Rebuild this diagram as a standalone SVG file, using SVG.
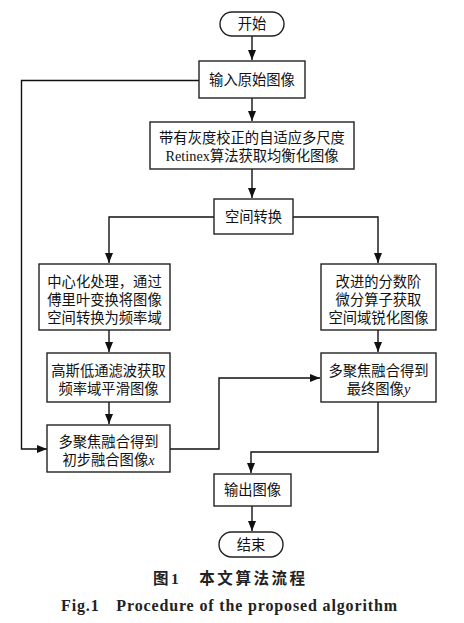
<svg xmlns="http://www.w3.org/2000/svg" width="464" height="623" viewBox="0 0 464 623">
<defs>
<marker id="ah" markerWidth="10" markerHeight="8" refX="10" refY="4" orient="auto" markerUnits="userSpaceOnUse">
<path d="M0,0 L10,4 L0,8 Z" fill="#111"/>
</marker>
<style>
.b{fill:#fff;stroke:#222;stroke-width:1.4}
.t{font-family:"Liberation Serif","Noto Sans CJK SC",serif;font-size:14.3px;fill:#111;text-anchor:middle}
.c{fill:none;stroke:#111;stroke-width:1.4}
.cap{font-family:"Liberation Serif","Noto Sans CJK SC",serif;font-weight:bold;fill:#222;text-anchor:middle}
</style>
</defs>
<rect width="464" height="623" fill="#fff"/>
<g id="connectors">
<path class="c" d="M252,36 V60" marker-end="url(#ah)"/>
<path class="c" d="M252,98 V121" marker-end="url(#ah)"/>
<path class="c" d="M252,169 V198" marker-end="url(#ah)"/>
<path class="c" d="M214,217 H109 V263" marker-end="url(#ah)"/>
<path class="c" d="M293,217 H378 V263" marker-end="url(#ah)"/>
<path class="c" d="M109,330 V352" marker-end="url(#ah)"/>
<path class="c" d="M378,330 V352" marker-end="url(#ah)"/>
<path class="c" d="M109,402 V424" marker-end="url(#ah)"/>
<path class="c" d="M199,80.5 H21.5 V449 H47" marker-end="url(#ah)"/>
<path class="c" d="M170,449 H219 V378 H320" marker-end="url(#ah)"/>
<path class="c" d="M378,402 V452 H251 V473" marker-end="url(#ah)"/>
<path class="c" d="M252,506 V531" marker-end="url(#ah)"/>
</g>
<g id="start">
<rect class="b" x="220" y="12" width="64" height="24" rx="12"/>
<text class="t" x="252" y="29">开始</text>
</g>
<g id="input">
<rect class="b" x="199" y="61" width="106" height="37"/>
<text class="t" x="252" y="85">输入原始图像</text>
</g>
<g id="retinex">
<rect class="b" x="150" y="122" width="204" height="47"/>
<text class="t" x="252" y="143">带有灰度校正的自适应多尺度</text>
<text class="t" x="252" y="161">Retinex算法获取均衡化图像</text>
</g>
<g id="space">
<rect class="b" x="214" y="199" width="79" height="35"/>
<text class="t" x="253.5" y="222">空间转换</text>
</g>
<g id="center">
<rect class="b" x="39" y="264" width="131" height="66"/>
<text class="t" x="104.5" y="287">中心化处理，通过</text>
<text class="t" x="104.5" y="305">傅里叶变换将图像</text>
<text class="t" x="104.5" y="323">空间转换为频率域</text>
</g>
<g id="fractional">
<rect class="b" x="321" y="264" width="115" height="66"/>
<text class="t" x="378.5" y="287">改进的分数阶</text>
<text class="t" x="378.5" y="305">微分算子获取</text>
<text class="t" x="378.5" y="323">空间域锐化图像</text>
</g>
<g id="gauss">
<rect class="b" x="47" y="353" width="123" height="49"/>
<text class="t" x="108.5" y="376">高斯低通滤波获取</text>
<text class="t" x="108.5" y="394">频率域平滑图像</text>
</g>
<g id="final">
<rect class="b" x="321" y="353" width="115" height="49"/>
<text class="t" x="378.5" y="376">多聚焦融合得到</text>
<text class="t" x="378.5" y="394">最终图像<tspan font-style="italic">y</tspan></text>
</g>
<g id="initial">
<rect class="b" x="47" y="425" width="123" height="47"/>
<text class="t" x="108.5" y="447">多聚焦融合得到</text>
<text class="t" x="108.5" y="465">初步融合图像<tspan font-style="italic">x</tspan></text>
</g>
<g id="output">
<rect class="b" x="214" y="474" width="77" height="32"/>
<text class="t" x="252.5" y="495">输出图像</text>
</g>
<g id="end">
<rect class="b" x="219" y="532" width="64" height="25" rx="12.5"/>
<text class="t" x="251" y="550">结束</text>
</g>
<g id="caption">
<text class="cap" x="229" y="584" font-size="15.5" textLength="152" lengthAdjust="spacing">图1　本文算法流程</text>
<text class="cap" x="229" y="611" font-size="16" textLength="336" lengthAdjust="spacing">Fig.1　Procedure of the proposed algorithm</text>
</g>
</svg>
